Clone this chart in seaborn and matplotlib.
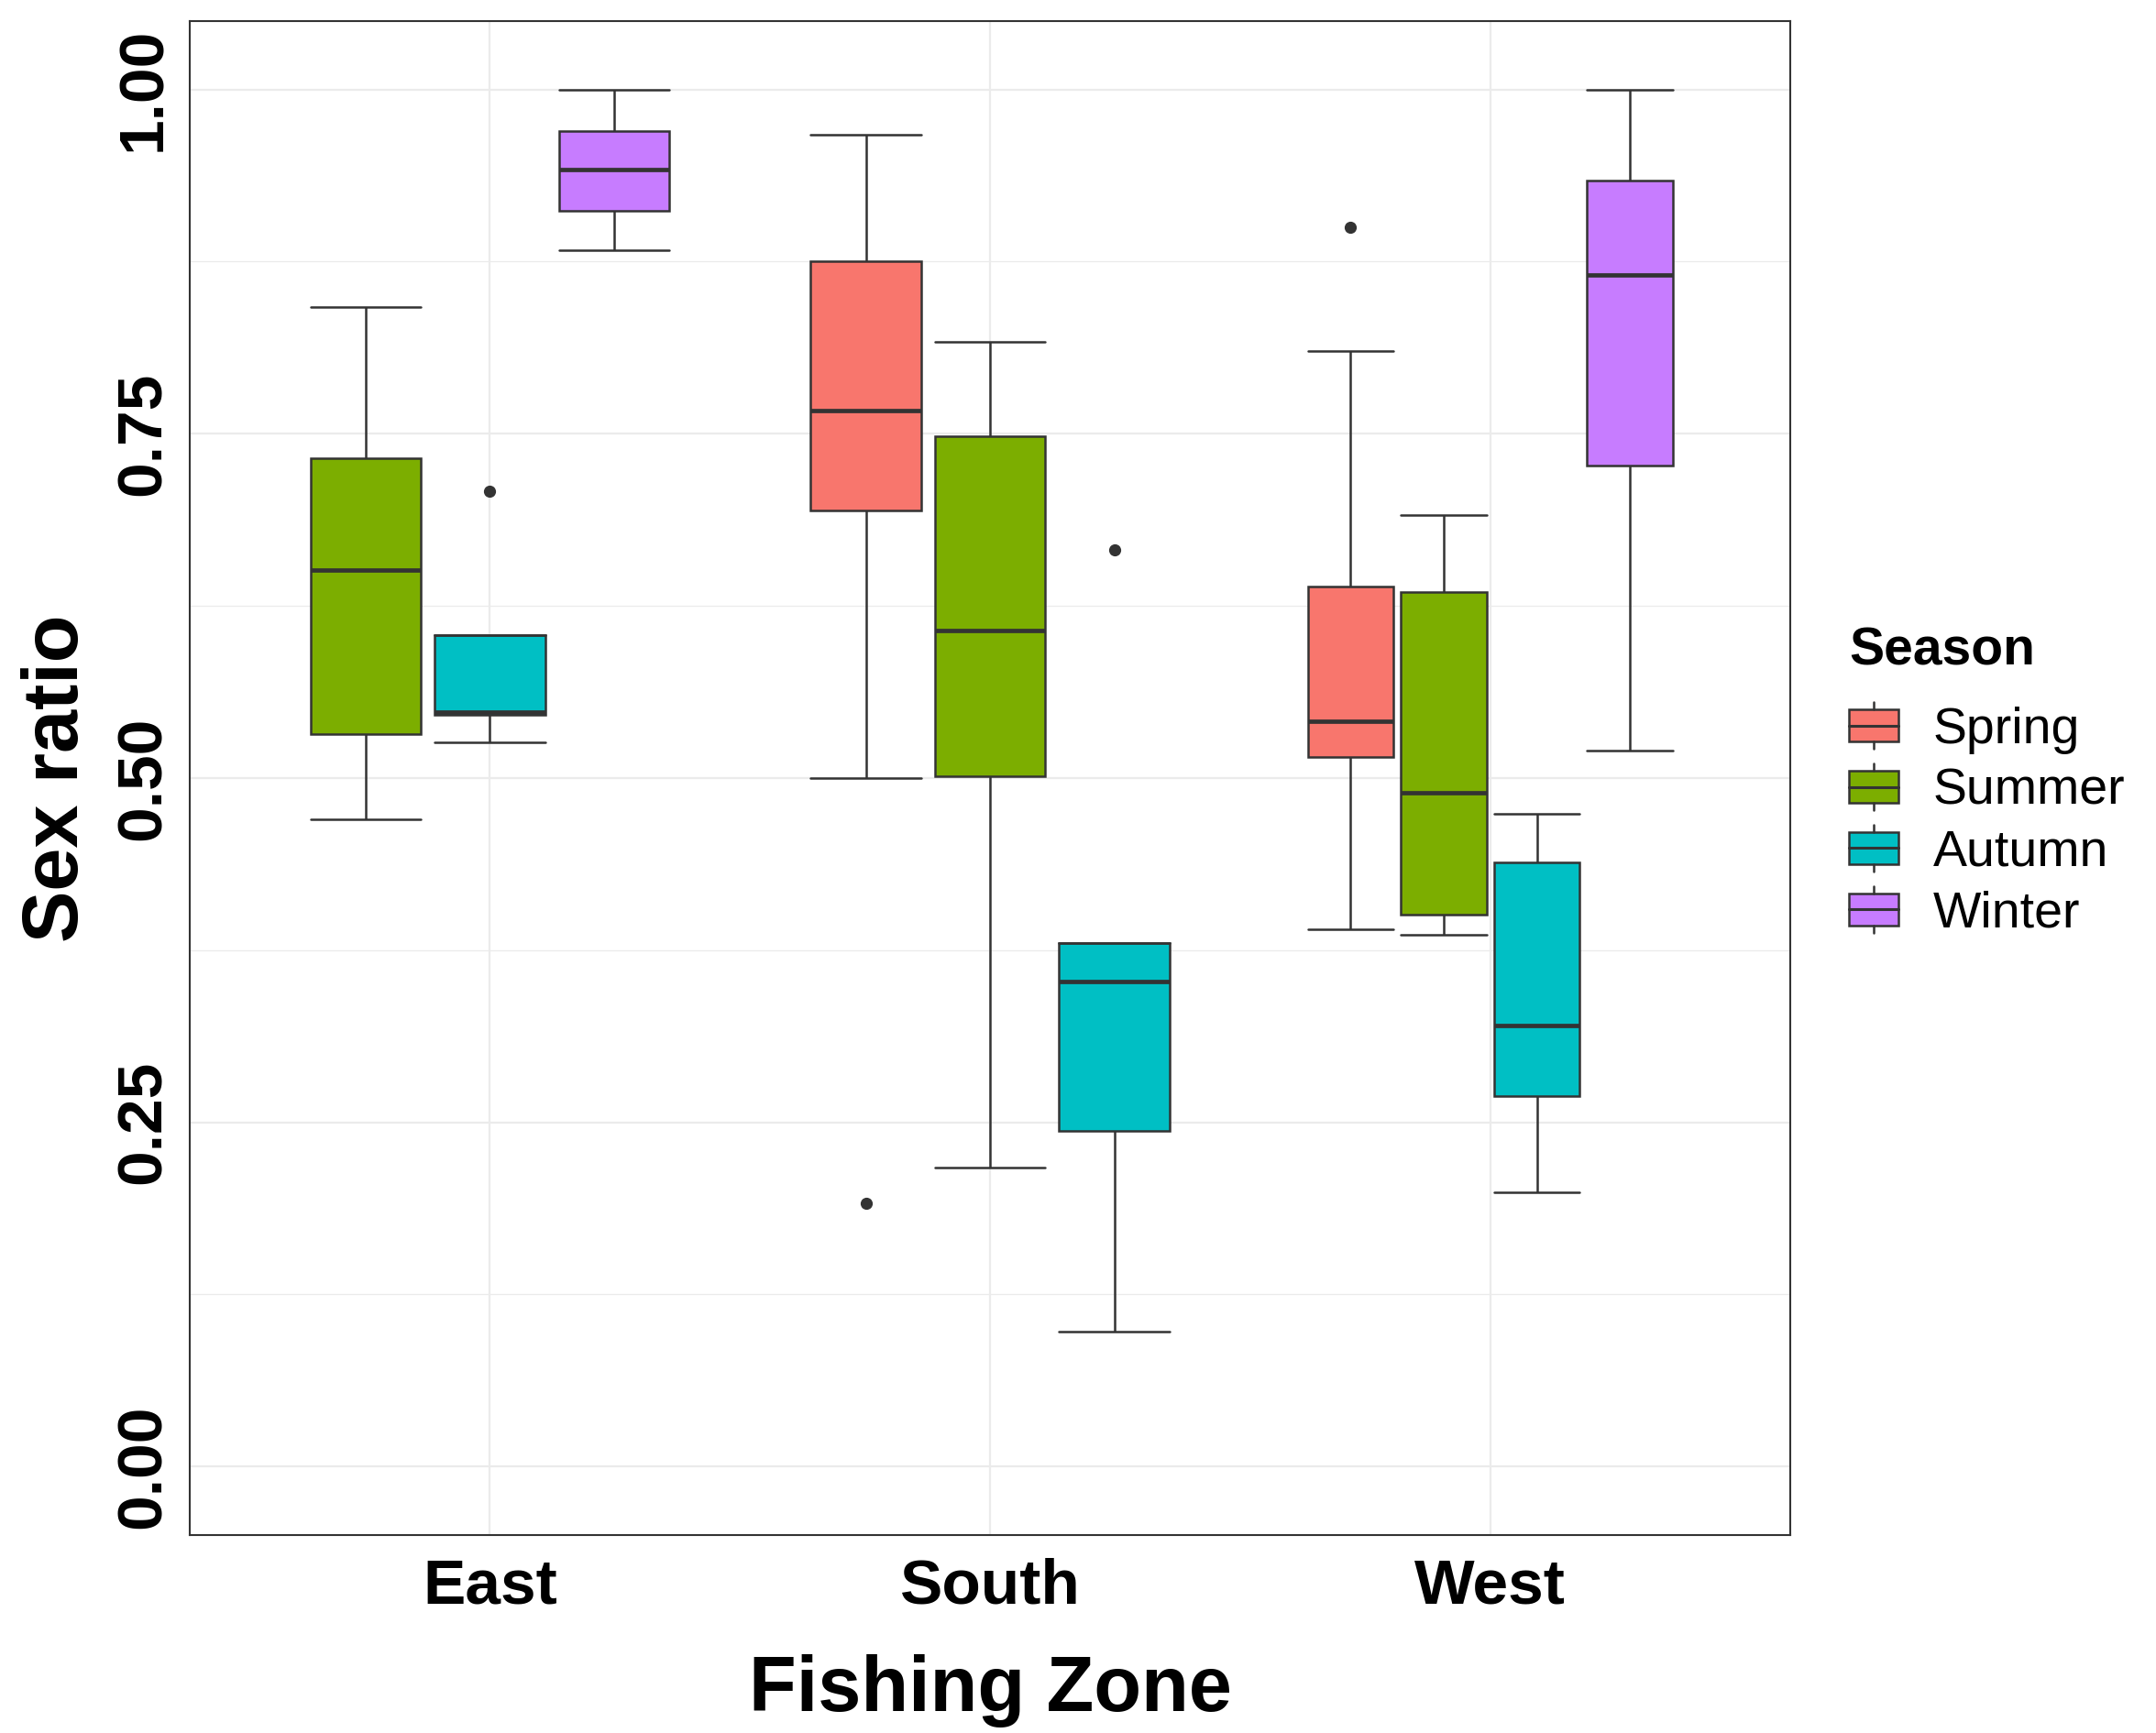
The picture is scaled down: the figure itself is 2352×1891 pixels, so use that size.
import pandas as pd
import matplotlib
matplotlib.use("Agg")
import matplotlib.pyplot as plt
from matplotlib.patches import Rectangle, Patch
from matplotlib.lines import Line2D
from matplotlib.legend_handler import HandlerBase
import seaborn as sns

zones = ["East", "South", "West"]
seasons = ["Spring", "Summer", "Autumn", "Winter"]
season_colors = ["#F8766D", "#7CAE00", "#00BFC4", "#C77CFF"]

# sex ratio samples per zone/season
east_summer = [0.470, 0.532, 0.651, 0.732, 0.842]
east_autumn = [0.526, 0.536, 0.546, 0.547, 0.548, 0.575, 0.604, 0.604, 0.708]
east_winter = [0.883, 0.912, 0.942, 0.970, 1.000]
south_spring = [0.191, 0.500, 0.694, 0.730, 0.767, 0.820, 0.875, 0.920, 0.967]
south_summer = [0.217, 0.501, 0.607, 0.748, 0.817]
south_autumn = [0.098, 0.170, 0.244, 0.300, 0.352, 0.365, 0.380, 0.380, 0.666]
west_spring = [0.390, 0.450, 0.515, 0.530, 0.541, 0.590, 0.639, 0.810, 0.900]
west_summer = [0.386, 0.401, 0.489, 0.635, 0.691]
west_autumn = [0.199, 0.269, 0.320, 0.439, 0.474]
west_winter = [0.520, 0.727, 0.865, 0.934, 1.000]

groups = [
    ("East", "Summer", east_summer),
    ("East", "Autumn", east_autumn),
    ("East", "Winter", east_winter),
    ("South", "Spring", south_spring),
    ("South", "Summer", south_summer),
    ("South", "Autumn", south_autumn),
    ("West", "Spring", west_spring),
    ("West", "Summer", west_summer),
    ("West", "Autumn", west_autumn),
    ("West", "Winter", west_winter),
]
rows = []
for zone, season, vals in groups:
    for v in vals:
        rows.append((zone, season, v))
df = pd.DataFrame(rows, columns=["Zone", "Season", "Sex ratio"])

sns.set_theme(style="white")
plt.rcParams['font.family'] = ['Liberation Sans', 'DejaVu Sans']
plt.rcParams['text.color'] = 'black'

line = "#333333"
palette = dict(zip(seasons, season_colors))


class BoxKey(HandlerBase):
    # legend key drawn like a small boxplot
    def create_artists(self, legend, orig_handle, xdescent, ydescent,
                       width, height, fontsize, trans):
        x0, y0 = -xdescent, -ydescent
        rect = Rectangle((x0, y0 + 0.16 * height), width, 0.68 * height,
                         facecolor=orig_handle.get_facecolor(), edgecolor=line,
                         lw=1.8, transform=trans)
        mid = Line2D([x0, x0 + width], [y0 + 0.5 * height] * 2,
                     color=line, lw=2.2, transform=trans)
        top = Line2D([x0 + width / 2] * 2, [y0 + 0.84 * height, y0 + height],
                     color=line, lw=1.8, transform=trans)
        bot = Line2D([x0 + width / 2] * 2, [y0, y0 + 0.16 * height],
                     color=line, lw=1.8, transform=trans)
        return [rect, mid, top, bot]


fig = plt.figure(figsize=(23.52, 18.91), dpi=100)
ax = fig.add_axes([0.088, 0.114, 0.7424, 0.8741])

for zone in zones:
    sub = df[df["Zone"] == zone]
    present = [s for s in seasons if s in set(sub["Season"])]
    n = len(present)
    gap = 0.11 if n == 3 else 0.08
    boxw = 0.745 / n * (1 - gap)
    sns.boxplot(data=sub, x="Zone", y="Sex ratio", hue="Season",
                order=zones, hue_order=present, palette=palette,
                saturation=1, width=0.745, gap=gap, whis=1.5,
                linecolor=line, linewidth=1.8, legend=False, ax=ax,
                capwidths=boxw, medianprops=dict(linewidth=3.4),
                flierprops=dict(marker="o", markersize=8.5,
                                markerfacecolor=line, markeredgecolor=line))

ax.set_xlim(-0.6, 2.6)
ax.set_ylim(-0.05, 1.05)
ax.set_yticks([0, 0.25, 0.5, 0.75, 1.0])
ax.set_yticklabels(["0.00", "0.25", "0.50", "0.75", "1.00"])
ax.set_yticks([0.125, 0.375, 0.625, 0.875], minor=True)
ax.grid(True, which="major", color="#EBEBEB", lw=1.6)
ax.grid(True, which="minor", axis="y", color="#EBEBEB", lw=0.9)
ax.set_axisbelow(True)

for s in ax.spines.values():
    s.set_visible(True)
    s.set_color(line)
    s.set_linewidth(1.5)

ax.tick_params(axis="both", which="major", labelsize=50, length=7,
               width=1.2, color=line, labelcolor="black")
ax.tick_params(axis="x", pad=10)
ax.tick_params(axis="y", pad=6)
ax.tick_params(which="minor", length=0)
for t in ax.get_xticklabels():
    t.set_fontweight("bold")
for t in ax.get_yticklabels():
    t.set_fontweight("bold")
    t.set_rotation(90)
    t.set_va("center")

ax.set_xlabel("Fishing Zone", fontsize=61, fontweight="bold", labelpad=30,
              color="black")
ax.set_ylabel("Sex ratio", fontsize=61, fontweight="bold", labelpad=16,
              color="black")

handles = [Patch(facecolor=c, label=s) for s, c in zip(seasons, season_colors)]
leg = ax.legend(handles=handles, title="Season", handler_map={Patch: BoxKey()},
                loc="upper left", bbox_to_anchor=(2017 / 2352, 1 - 683 / 1891),
                bbox_transform=fig.transFigure, frameon=False, fontsize=40,
                title_fontproperties={"weight": "bold", "size": 41},
                handlelength=0.97, handleheight=1.03, labelspacing=0.19,
                handletextpad=0.68, borderpad=0, borderaxespad=0,
                alignment="left")
leg._legend_box.sep = 21
for t in leg.get_texts():
    t.set_color("black")
leg.get_title().set_color("black")

fig.savefig("out.png", dpi=100)
